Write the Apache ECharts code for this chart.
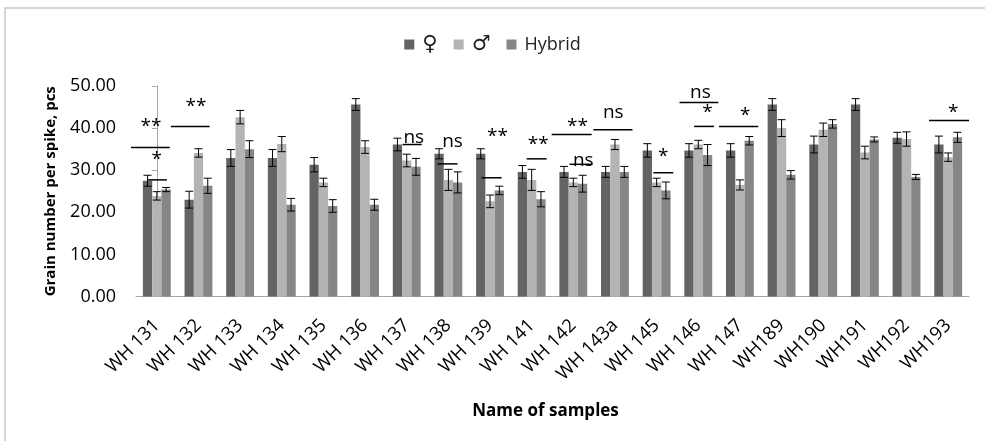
<!DOCTYPE html>
<html>
<head>
<meta charset="utf-8">
<script src="https://cdn.jsdelivr.net/npm/echarts@6/dist/echarts.min.js"></script>
<style>
  html, body { margin: 0; padding: 0; background: #fff; }
  #chart { width: 985px; height: 441px; }
</style>
</head>
<body>
<div id="chart"></div>
<script>
// sample names
const categories = ['WH 131', 'WH 132', 'WH 133', 'WH 134', 'WH 135', 'WH 136', 'WH 137', 'WH 138', 'WH 139', 'WH 141',
  'WH 142', 'WH 143a', 'WH 145', 'WH 146', 'WH 147', 'WH189', 'WH190', 'WH191', 'WH192', 'WH193']

// means
const femaleVals = [27.5, 23.0, 32.9, 32.9, 31.3, 45.6, 36.1, 33.9, 33.9, 29.6, 29.6, 29.6, 34.7, 34.7, 34.7, 45.6, 36.1, 45.6, 37.7, 36.1]
const maleVals = [23.9, 34.1, 42.6, 36.2, 27.1, 35.5, 32.3, 27.7, 22.6, 27.7, 27.1, 36.1, 27.1, 36.1, 26.5, 40.0, 39.6, 34.2, 37.4, 33.1]
const hybridVals = [25.4, 26.3, 35.0, 21.8, 21.5, 21.8, 30.8, 27.1, 25.2, 23.1, 26.8, 29.6, 25.2, 33.6, 37.0, 28.9, 41.0, 37.3, 28.4, 37.8]

// error bar half widths
const femaleErr = [1.3, 2.0, 2.0, 2.0, 1.7, 1.4, 1.5, 1.2, 1.2, 1.5, 1.3, 1.3, 1.6, 1.6, 1.6, 1.4, 2.0, 1.4, 1.3, 2.0]
const maleErr = [1.0, 1.0, 1.6, 1.8, 1.0, 1.5, 1.5, 2.5, 1.5, 2.5, 1.0, 1.2, 1.0, 1.0, 1.2, 2.0, 1.6, 1.5, 1.7, 1.0]
const hybridErr = [0.5, 1.8, 2.0, 1.5, 1.5, 1.3, 2.0, 2.5, 1.0, 1.8, 2.0, 1.3, 2.0, 2.5, 1.0, 1.0, 1.0, 0.6, 0.6, 1.2]

// significance marks: [x from, x to, y] in category units
const sigLines = [
  [-0.62, 0.31, 35.4], [-0.21, 0.24, 27.7], [0.34, 1.27, 40.4], [5.9, 6.36, 36.1], [6.74, 7.22, 31.5],
  [7.8, 8.28, 28.2], [8.88, 9.36, 32.7], [9.48, 10.44, 38.5], [9.91, 10.46, 31.4], [10.48, 11.42, 39.6],
  [11.92, 12.4, 29.4], [12.55, 13.48, 46.1], [12.9, 13.38, 40.4], [13.5, 14.44, 40.4], [18.54, 19.5, 41.8]
]
const sigTexts = [
  [-0.14, 40.4, '**'], [0.0, 32.5, '*'], [0.94, 45.1, '**'], [6.17, 37.7, 'ns'], [7.1, 36.8, 'ns'],
  [8.18, 38.0, '**'], [9.16, 36.1, '**'], [10.1, 40.4, '**'], [10.24, 32.3, 'ns'], [10.96, 43.7, 'ns'],
  [12.16, 33.2, '*'], [13.05, 48.5, 'ns'], [13.22, 43.7, '*'], [14.13, 43.0, '*'], [19.12, 43.7, '*']
]

const seriesNames = ['♀', '♂', 'Hybrid']
const colors = ['#646464', '#b4b4b4', '#868686']
const barFrac = 0.223
const font = 'Open Sans'

const chart = echarts.init(document.getElementById('chart'))

const errSeries = [femaleVals, maleVals, hybridVals].map((vals, s) => {
  const errs = [femaleErr, maleErr, hybridErr][s]
  return {
    type: 'custom',
    xAxisIndex: 1,
    z: 5,
    silent: true,
    data: vals.map((v, i) => [i + (s - 1) * barFrac, v - errs[i], v + errs[i]]),
    renderItem: (params, api) => {
      const lo = api.coord([api.value(0), api.value(1)])
      const hi = api.coord([api.value(0), api.value(2)])
      const hw = 4
      const st = { stroke: '#000', lineWidth: 1 }
      return {
        type: 'group',
        children: [
          { type: 'line', shape: { x1: lo[0], y1: lo[1], x2: hi[0], y2: hi[1] }, style: st },
          { type: 'line', shape: { x1: lo[0] - hw, y1: lo[1], x2: lo[0] + hw, y2: lo[1] }, style: st },
          { type: 'line', shape: { x1: hi[0] - hw, y1: hi[1], x2: hi[0] + hw, y2: hi[1] }, style: st }
        ]
      }
    }
  }
})

chart.setOption({
  animation: false,
  color: colors,
  textStyle: { fontFamily: font },
  graphic: [{
    type: 'rect',
    shape: { x: 5, y: 8, width: 990, height: 450 },
    style: { fill: 'none', stroke: '#c8c8c8', lineWidth: 1.5 },
    silent: true
  }],
  legend: {
    top: 29,
    left: 'center',
    icon: 'rect',
    itemWidth: 10,
    itemHeight: 10,
    itemGap: 16,
    data: seriesNames,
    formatter: name => name === 'Hybrid' ? name : '{g|' + name + '}',
    textStyle: {
      fontSize: 18, color: '#222', fontFamily: font, padding: [0, 0, 0, 3],
      rich: { g: { fontSize: 21, fontFamily: 'DejaVu Sans', color: '#222' } }
    }
  },
  grid: { left: 136, right: 16, top: 86, bottom: 144.5 },
  xAxis: [{
    type: 'category',
    data: categories,
    name: 'Name of samples',
    nameLocation: 'middle',
    nameGap: 106,
    nameTextStyle: { fontSize: 17, fontWeight: 'bold', color: '#000', padding: [0, 14, 0, 0] },
    axisLine: { lineStyle: { color: '#a6a6a6' } },
    axisTick: { length: 5, lineStyle: { color: '#a6a6a6' } },
    axisLabel: { rotate: 45, fontSize: 18.5, color: '#000', margin: 26, interval: 0 }
  }, {
    type: 'value',
    min: -0.5,
    max: 19.5,
    show: false
  }],
  yAxis: {
    type: 'value',
    min: 0,
    max: 50,
    interval: 10,
    name: 'Grain number per spike, pcs',
    nameLocation: 'middle',
    nameGap: 78,
    nameTextStyle: { fontSize: 15, fontWeight: 'bold', color: '#000' },
    axisLine: { show: true, lineStyle: { color: '#a6a6a6' } },
    axisTick: { show: true, length: 5, lineStyle: { color: '#a6a6a6' } },
    splitLine: { show: false },
    axisLabel: { fontSize: 18, color: '#000', margin: 20, formatter: v => v.toFixed(2) }
  },
  series: [
    { name: seriesNames[0], type: 'bar', data: femaleVals, barWidth: (barFrac * 100) + '%', barGap: '0%' },
    { name: seriesNames[1], type: 'bar', data: maleVals, barWidth: (barFrac * 100) + '%', barGap: '0%' },
    { name: seriesNames[2], type: 'bar', data: hybridVals, barWidth: (barFrac * 100) + '%', barGap: '0%' },
    ...errSeries,
    {
      type: 'custom',
      xAxisIndex: 1,
      z: 6,
      silent: true,
      data: sigLines,
      renderItem: (params, api) => {
        const a = api.coord([api.value(0), api.value(2)])
        const b = api.coord([api.value(1), api.value(2)])
        return { type: 'line', shape: { x1: a[0], y1: a[1], x2: b[0], y2: b[1] }, style: { stroke: '#000', lineWidth: 1.5 } }
      }
    },
    {
      type: 'custom',
      xAxisIndex: 1,
      z: 7,
      silent: true,
      data: sigTexts,
      renderItem: (params, api) => {
        const p = api.coord([api.value(0), api.value(1)])
        const t = sigTexts[params.dataIndex][2]
        return {
          type: 'text',
          x: p[0], y: p[1],
          style: { text: t, fill: '#000', fontSize: 19, fontFamily: font, align: 'center', verticalAlign: 'middle' }
        }
      }
    }
  ]
})
</script>
</body>
</html>
